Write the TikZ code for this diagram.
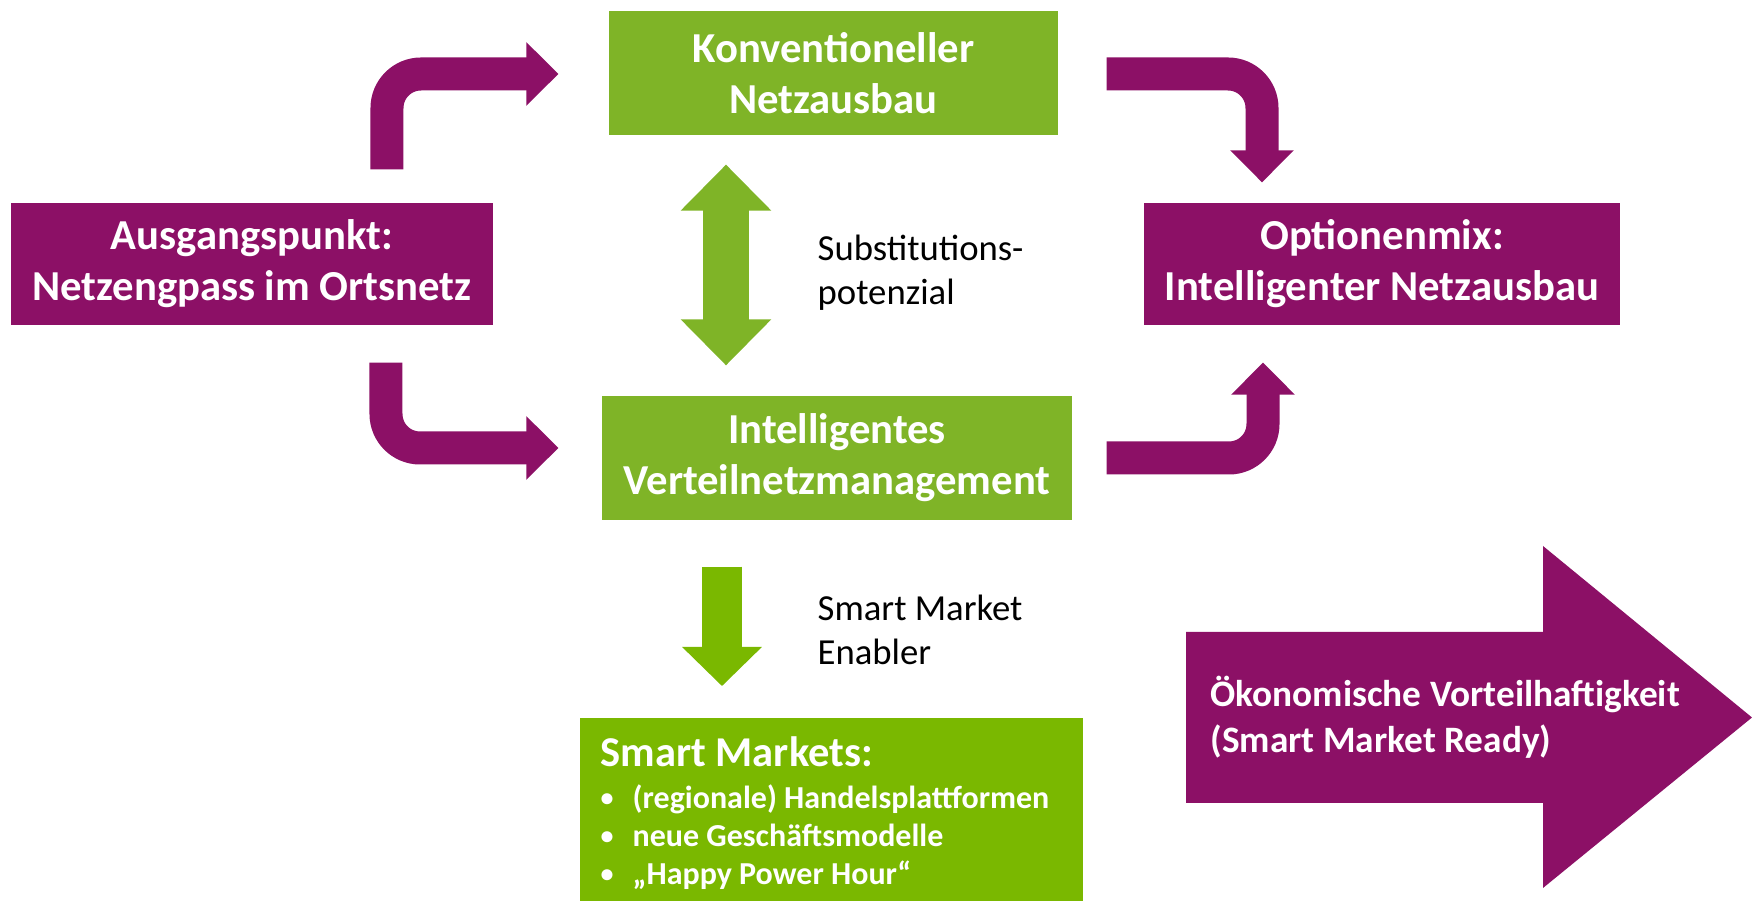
\documentclass[tikz,border=0pt]{standalone}
\usepackage{fontspec}
\setmainfont{Carlito}
\usetikzlibrary{arrows.meta, positioning, calc}
\definecolor{netzlila}{RGB}{140,16,102}
\definecolor{netzgruen}{RGB}{127,180,39}
\definecolor{marktgruen}{RGB}{122,184,0}
\newcommand{\smartitem}{\makebox[3.2mm][l]{\fontsize{2.6mm}{3mm}\selectfont\raisebox{0.25mm}{\textbullet}}}

\begin{document}
\begin{tikzpicture}[
  x=0.1mm, y=-0.1mm,
  box/.style={inner sep=0pt, align=center, text=white, font=\fontsize{4.27mm}{5.1mm}\selectfont\bfseries},
  lilabox/.style={box, fill=netzlila, minimum height=12.2mm},
  gruenbox/.style={box, fill=netzgruen, minimum height=12.4mm},
  bentarrow/.style={netzlila, line width=3.3mm, rounded corners=3.4mm, -{Triangle[length=3.2mm, width=6.3mm, line width=0.4mm]}},
  dblarrow/.style={netzgruen, line width=4.6mm, {Triangle[length=4.6mm, width=9mm, line width=0.4mm]}-{Triangle[length=4.6mm, width=9mm, line width=0.4mm]}},
  downarrow/.style={marktgruen, line width=4mm, -{Triangle[length=3.9mm, width=7.9mm, line width=0.4mm]}},
  lbl/.style={anchor=west, inner sep=0pt, align=left, font=\fontsize{3.67mm}{4.4mm}\selectfont}
]
\useasboundingbox (0,0) rectangle (1752,901);

% boxes
\node[lilabox, minimum width=48.2mm] (start)  at (252,264)   {Ausgangspunkt:\\Netzengpass im Ortsnetz};
\node[gruenbox, minimum width=44.9mm] (konv)  at (833.5,73)  {Konventioneller\\Netzausbau};
\node[gruenbox, minimum width=47mm]   (ivm)   at (837,458)   {Intelligentes\\Verteilnetzmanagement};
\node[lilabox, minimum width=47.6mm] (optmix) at (1382,264)  {Optionenmix:\\Intelligenter Netzausbau};
\node[fill=marktgruen, inner sep=0pt, minimum width=50.3mm, minimum height=18.4mm, anchor=north west] (smart) at (579,717) {};

\node[anchor=north west, inner sep=0pt, align=left, text=white, font=\fontsize{3.2mm}{3.8mm}\selectfont\bfseries]
  (smart-txt) at ([xshift=2.1mm, yshift=-1.9mm]smart.north west)
  {{\fontsize{4.25mm}{5mm}\selectfont Smart Markets:}\\[0.4mm]
   \smartitem(regionale) Handelsplattformen\\
   \smartitem neue Geschäftsmodelle\\
   \smartitem„Happy Power Hour“};

% bent arrows
\draw[bentarrow] ([xshift=13.5mm, yshift=3.3mm]start.north) |- ([xshift=-5mm, yshift=-0.1mm]konv.west);
\draw[bentarrow] ([xshift=13.4mm, yshift=-3.7mm]start.south) |- ([xshift=-4.3mm, yshift=1mm]ivm.west);
\draw[bentarrow] ([xshift=4.8mm, yshift=-0.1mm]konv.east) -| ([xshift=-12mm, yshift=2mm]optmix.north);
\draw[bentarrow] ([xshift=3.4mm, yshift=0mm]ivm.east) -| ([xshift=-11.9mm, yshift=-3.7mm]optmix.south);

% green arrows
\coordinate (sub-top) at ([xshift=-10.75mm, yshift=-2.9mm]konv.south);
\coordinate (sub-bot) at ($(sub-top |- ivm.north)+(0,-30)$);
\draw[dblarrow] (sub-top) -- (sub-bot);

\coordinate (enab-top) at ([xshift=-11.5mm, yshift=-4.6mm]ivm.south);
\coordinate (enab-bot) at ($(enab-top |- smart.north)+(0,-31)$);
\draw[downarrow] (enab-top) -- (enab-bot);

\node[lbl] (subst)   at (817,273) {Substitutions-\\potenzial};
\node[lbl] (enabler) at (817,630) {Smart Market\\Enabler};

% big arrow
\fill[netzlila] (1186,632) -- (1543,632) -- (1543,546) -- (1752,717.5) -- (1543,888) -- (1543,803) -- (1186,803) -- cycle;
\node[anchor=west, inner sep=0pt, align=left, text=white, font=\fontsize{3.73mm}{4.6mm}\selectfont\bfseries]
  (econ) at (1210,717) {Ökonomische Vorteilhaftigkeit\\(Smart Market Ready)};

\end{tikzpicture}
\end{document}
